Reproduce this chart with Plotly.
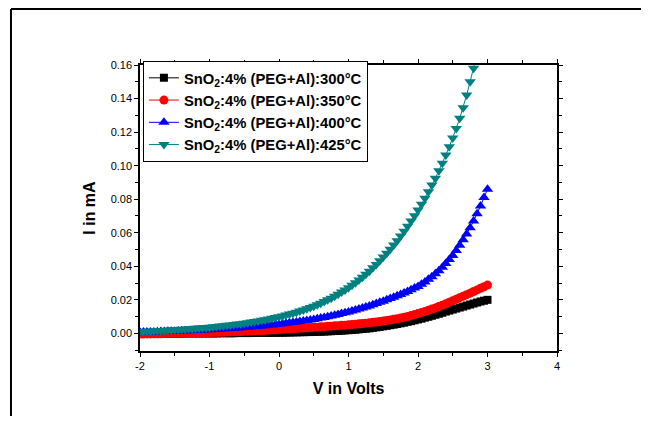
import plotly.graph_objects as go

voltage = [
    -2.00, -1.95, -1.90, -1.85, -1.80, -1.75, -1.70, -1.65, -1.60, -1.55,
    -1.50, -1.45, -1.40, -1.35, -1.30, -1.25, -1.20, -1.15, -1.10, -1.05,
    -1.00, -0.95, -0.90, -0.85, -0.80, -0.75, -0.70, -0.65, -0.60, -0.55,
    -0.50, -0.45, -0.40, -0.35, -0.30, -0.25, -0.20, -0.15, -0.10, -0.05,
    0.00, 0.05, 0.10, 0.15, 0.20, 0.25, 0.30, 0.35, 0.40, 0.45,
    0.50, 0.55, 0.60, 0.65, 0.70, 0.75, 0.80, 0.85, 0.90, 0.95,
    1.00, 1.05, 1.10, 1.15, 1.20, 1.25, 1.30, 1.35, 1.40, 1.45,
    1.50, 1.55, 1.60, 1.65, 1.70, 1.75, 1.80, 1.85, 1.90, 1.95,
    2.00, 2.05, 2.10, 2.15, 2.20, 2.25, 2.30, 2.35, 2.40, 2.45,
    2.50, 2.55, 2.60, 2.65, 2.70, 2.75, 2.80, 2.85, 2.90, 2.95,
    3.00,
]

i_300 = [
    -0.0003, -0.0003, -0.0003, -0.0003, -0.0002, -0.0002, -0.0002, -0.0002, -0.0001, -0.0001,
    -0.0001, -0.0001, -0.0001, 0.0000, 0.0000, 0.0000, 0.0000, 0.0000, 0.0000, 0.0000,
    0.0000, 0.0000, 0.0000, 0.0001, 0.0001, 0.0001, 0.0001, 0.0001, 0.0002, 0.0002,
    0.0002, 0.0002, 0.0002, 0.0003, 0.0003, 0.0003, 0.0003, 0.0003, 0.0004, 0.0004,
    0.0004, 0.0004, 0.0005, 0.0005, 0.0006, 0.0006, 0.0007, 0.0007, 0.0008, 0.0008,
    0.0009, 0.0010, 0.0010, 0.0011, 0.0012, 0.0013, 0.0014, 0.0015, 0.0016, 0.0018,
    0.0019, 0.0020, 0.0022, 0.0024, 0.0026, 0.0028, 0.0030, 0.0033, 0.0036, 0.0039,
    0.0042, 0.0045, 0.0049, 0.0052, 0.0056, 0.0060, 0.0064, 0.0069, 0.0073, 0.0078,
    0.0083, 0.0088, 0.0094, 0.0099, 0.0105, 0.0111, 0.0117, 0.0123, 0.0130, 0.0136,
    0.0142, 0.0148, 0.0154, 0.0160, 0.0166, 0.0172, 0.0178, 0.0184, 0.0190, 0.0195,
    0.0200,
]

i_350 = [
    -0.0004, -0.0004, -0.0003, -0.0003, -0.0002, -0.0002, -0.0002, -0.0001, -0.0001, 0.0000,
    0.0000, 0.0000, 0.0001, 0.0001, 0.0002, 0.0002, 0.0003, 0.0003, 0.0004, 0.0004,
    0.0005, 0.0005, 0.0006, 0.0007, 0.0007, 0.0008, 0.0009, 0.0010, 0.0010, 0.0011,
    0.0012, 0.0013, 0.0014, 0.0015, 0.0016, 0.0017, 0.0018, 0.0019, 0.0021, 0.0022,
    0.0023, 0.0024, 0.0025, 0.0027, 0.0028, 0.0029, 0.0030, 0.0032, 0.0033, 0.0035,
    0.0036, 0.0037, 0.0039, 0.0040, 0.0042, 0.0043, 0.0045, 0.0046, 0.0048, 0.0049,
    0.0051, 0.0053, 0.0055, 0.0057, 0.0059, 0.0061, 0.0063, 0.0066, 0.0068, 0.0071,
    0.0074, 0.0077, 0.0080, 0.0084, 0.0087, 0.0091, 0.0096, 0.0101, 0.0106, 0.0112,
    0.0118, 0.0124, 0.0131, 0.0138, 0.0145, 0.0152, 0.0160, 0.0168, 0.0177, 0.0186,
    0.0195, 0.0204, 0.0213, 0.0222, 0.0231, 0.0240, 0.0250, 0.0259, 0.0269, 0.0278,
    0.0288,
]

i_400 = [
    0.0007, 0.0008, 0.0008, 0.0009, 0.0009, 0.0010, 0.0011, 0.0011, 0.0012, 0.0012,
    0.0013, 0.0014, 0.0015, 0.0015, 0.0016, 0.0017, 0.0018, 0.0019, 0.0020, 0.0021,
    0.0022, 0.0023, 0.0024, 0.0026, 0.0027, 0.0028, 0.0029, 0.0031, 0.0032, 0.0034,
    0.0035, 0.0037, 0.0039, 0.0040, 0.0042, 0.0044, 0.0046, 0.0048, 0.0050, 0.0053,
    0.0055, 0.0058, 0.0060, 0.0063, 0.0065, 0.0068, 0.0071, 0.0074, 0.0077, 0.0080,
    0.0083, 0.0087, 0.0091, 0.0095, 0.0099, 0.0103, 0.0108, 0.0113, 0.0118, 0.0123,
    0.0128, 0.0134, 0.0139, 0.0145, 0.0151, 0.0157, 0.0164, 0.0171, 0.0178, 0.0185,
    0.0192, 0.0200, 0.0208, 0.0216, 0.0224, 0.0232, 0.0241, 0.0250, 0.0260, 0.0270,
    0.0280, 0.0293, 0.0307, 0.0322, 0.0338, 0.0355, 0.0374, 0.0394, 0.0416, 0.0440,
    0.0465, 0.0494, 0.0525, 0.0558, 0.0593, 0.0630, 0.0670, 0.0713, 0.0760, 0.0810,
    0.0860,
]

i_425 = [
    0.0010, 0.0011, 0.0012, 0.0013, 0.0014, 0.0015, 0.0016, 0.0017, 0.0018, 0.0020,
    0.0021, 0.0022, 0.0024, 0.0025, 0.0027, 0.0028, 0.0030, 0.0032, 0.0033, 0.0035,
    0.0037, 0.0039, 0.0041, 0.0044, 0.0046, 0.0048, 0.0050, 0.0053, 0.0056, 0.0058,
    0.0061, 0.0064, 0.0068, 0.0071, 0.0074, 0.0078, 0.0082, 0.0086, 0.0090, 0.0095,
    0.0099, 0.0104, 0.0109, 0.0115, 0.0120, 0.0126, 0.0133, 0.0140, 0.0147, 0.0154,
    0.0162, 0.0171, 0.0180, 0.0190, 0.0200, 0.0210, 0.0222, 0.0234, 0.0246, 0.0259,
    0.0272, 0.0287, 0.0302, 0.0318, 0.0335, 0.0352, 0.0371, 0.0391, 0.0411, 0.0433,
    0.0455, 0.0478, 0.0502, 0.0527, 0.0553, 0.0580, 0.0609, 0.0639, 0.0670, 0.0702,
    0.0735, 0.0770, 0.0806, 0.0844, 0.0884, 0.0925, 0.0969, 0.1015, 0.1063, 0.1113,
    0.1165, 0.1222, 0.1282, 0.1345, 0.1421, 0.1500, 0.1580, 0.1662, 0.1748, 0.1838,
    0.1930,
]

series_names = [
    "<b>SnO<sub>2</sub>:4% (PEG+Al):300°C</b>",
    "<b>SnO<sub>2</sub>:4% (PEG+Al):350°C</b>",
    "<b>SnO<sub>2</sub>:4% (PEG+Al):400°C</b>",
    "<b>SnO<sub>2</sub>:4% (PEG+Al):425°C</b>",
]
series_values = [i_300, i_350, i_400, i_425]
colors = ["#000000", "#FF0000", "#0000FF", "#008080"]
symbols = ["square", "circle", "triangle-up", "triangle-down"]
sizes = [8, 9, 10, 10]

x_tickvals = [-2, -1, 0, 1, 2, 3, 4]
x_ticktext = ["-2", "-1", "0", "1", "2", "3", "4"]

fig = go.Figure()
for name, vals, c, s, sz in zip(series_names, series_values, colors, symbols, sizes):
    fig.add_trace(go.Scatter(
        x=voltage, y=vals, name=name, mode="lines+markers",
        line=dict(color=c, width=1),
        marker=dict(symbol=s, size=sz, color=c, line=dict(width=0)),
    ))

axis_font = dict(family="Arial, Liberation Sans, sans-serif", size=11, color="#000000")
title_font = dict(family="Arial, Liberation Sans, sans-serif", size=16, color="#000000")

# the page body adds an 8 px margin; size the figure so the page never scrolls
fig.update_layout(
    width=633, height=408,
    margin=dict(l=132, r=84, t=57, b=65),
    paper_bgcolor="white", plot_bgcolor="white",
    showlegend=True,
    legend=dict(
        x=0.007, y=1.015, xanchor="left", yanchor="top",
        bordercolor="#000000", borderwidth=1, bgcolor="white",
        font=dict(family="Arial, Liberation Sans, sans-serif", size=14.8, color="#000000"),
        tracegroupgap=0,
    ),
    xaxis=dict(
        range=[-2, 4], tickmode="array", tickvals=x_tickvals, ticktext=x_ticktext,
        showline=True, linecolor="black", linewidth=1.5, mirror="allticks",
        ticks="outside", ticklen=4, tickwidth=1, tickcolor="black",
        minor=dict(dtick=0.5, ticks="outside", ticklen=3, tickcolor="black"),
        showgrid=False, zeroline=False,
        tickfont=axis_font,
        title=dict(text="<b>V in Volts</b>", font=title_font, standoff=12),
    ),
    yaxis=dict(
        range=[-0.0105, 0.16], dtick=0.02, tick0=0, tickformat=".2f",
        showline=True, linecolor="black", linewidth=1.5, mirror="allticks",
        ticks="outside", ticklen=4, tickwidth=1, tickcolor="black",
        minor=dict(dtick=0.01, ticks="outside", ticklen=3, tickcolor="black"),
        showgrid=False, zeroline=False,
        tickfont=axis_font,
        title=dict(text="<b>I in mA</b>", font=title_font, standoff=11),
    ),
)

# outer frame: left edge and top edge (top edge drawn from right to left)
fig.add_shape(type="line", xref="paper", yref="paper",
              x0=-0.3094, x1=-0.3094, y0=1.1958, y1=-0.25,
              line=dict(color="black", width=2), layer="above")
fig.add_shape(type="line", xref="paper", yref="paper",
              x0=1.22, x1=-0.3094, y0=1.1958, y1=1.1958,
              line=dict(color="black", width=2), layer="above")

fig.write_html("out.html")
